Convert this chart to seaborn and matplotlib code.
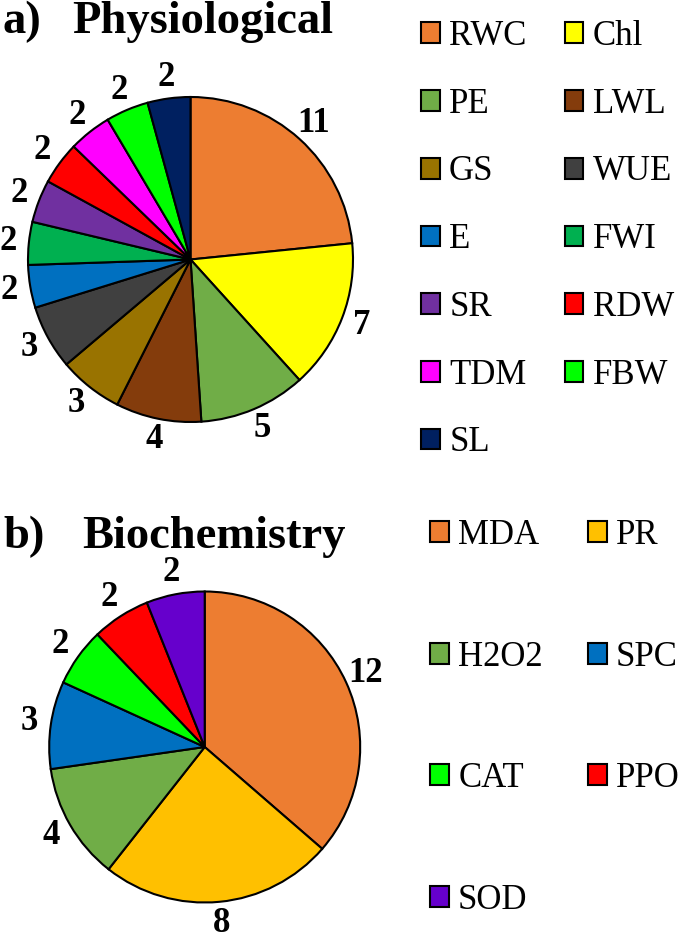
import seaborn as sns
import matplotlib.pyplot as plt

# Data
phys_labels = ['RWC', 'Chl', 'PE', 'LWL', 'GS', 'WUE', 'E', 'FWI', 'SR', 'RDW', 'TDM', 'FBW', 'SL']
phys_values = [11, 7, 5, 4, 3, 3, 2, 2, 2, 2, 2, 2, 2]
phys_colors = ['#ED7D31', '#FFFF00', '#70AD47', '#843C0C', '#997300', '#404040', '#0070C0',
               '#00B050', '#7030A0', '#FF0000', '#FF00FF', '#00FF00', '#002060']

bio_labels = ['MDA', 'PR', 'H2O2', 'SPC', 'CAT', 'PPO', 'SOD']
bio_values = [12, 8, 4, 3, 2, 2, 2]
bio_colors = ['#ED7D31', '#FFC000', '#70AD47', '#0070C0', '#00FF00', '#FF0000', '#6600CC']

sns.set_theme(style='white')
plt.rcParams['font.family'] = ['Liberation Serif', 'DejaVu Serif']
plt.rcParams['text.color'] = 'black'

W, H = 680, 943
fig = plt.figure(figsize=(W / 100, H / 100), dpi=100)


def pie_axes(cx, cy, radius, lim=1.25):
    half = radius * lim
    ax = fig.add_axes([(cx - half) / W, 1 - (cy + half) / H, 2 * half / W, 2 * half / H])
    return ax


def draw_pie(ax, values, colors, dist):
    total = sum(values)
    wedges, _, _ = ax.pie(values, colors=colors, startangle=90, counterclock=False,
                          wedgeprops=dict(edgecolor='black', linewidth=1.5),
                          autopct=lambda p: f'{p * total / 100:.0f}', pctdistance=dist,
                          textprops=dict(fontsize=25, fontweight='bold', color='black'))
    ax.set_xlim(-1.25, 1.25)
    ax.set_ylim(-1.25, 1.25)
    ax.set_aspect('equal')
    ax.axis('off')
    return wedges


def col_major(items):
    return [items[i] for i in range(0, len(items), 2)] + [items[i] for i in range(1, len(items), 2)]


# a) Physiological
ax1 = pie_axes(190.5, 259.5, 162.5)
w1 = draw_pie(ax1, phys_values, phys_colors, 1.13)
fig.text(3 / W, 1 - 33 / H, 'a)', fontsize=33.5, fontweight='bold', ha='left', va='baseline')
fig.text(72 / W, 1 - 33 / H, 'Physiological', fontsize=33.5, fontweight='bold', ha='left', va='baseline')
fig.legend(col_major(w1), col_major(phys_labels), ncol=2, loc='upper left',
           bbox_to_anchor=(421 / W, 1 - 20 / H), frameon=False, fontsize=25, borderpad=0,
           borderaxespad=0, handlelength=0.54, handleheight=0.54, handletextpad=0.27,
           labelspacing=1.0, columnspacing=1.1)

# b) Biochemistry
ax2 = pie_axes(204.7, 747, 155.5)
w2 = draw_pie(ax2, bio_values, bio_colors, 1.14)
fig.text(3 / W, 1 - 548 / H, 'b)', fontsize=33.5, fontweight='bold', ha='left', va='baseline')
fig.text(82 / W, 1 - 548 / H, 'Biochemistry', fontsize=33.5, fontweight='bold', ha='left', va='baseline')
fig.legend(col_major(w2), col_major(bio_labels), ncol=2, loc='upper left',
           bbox_to_anchor=(430 / W, 1 - 519 / H), frameon=False, fontsize=25, borderpad=0,
           borderaxespad=0, handlelength=0.54, handleheight=0.54, handletextpad=0.27,
           labelspacing=2.55, columnspacing=1.3)

fig.savefig('out.png', dpi=100)
